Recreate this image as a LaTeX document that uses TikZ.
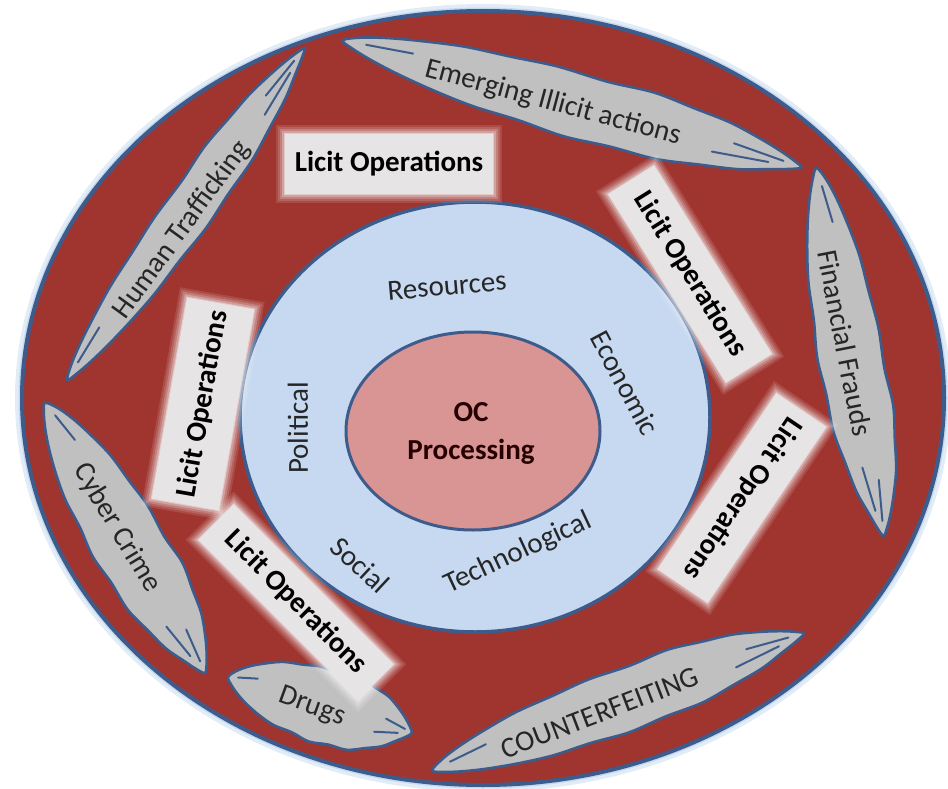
\documentclass[tikz,border=0pt]{standalone}
\usepackage{fontspec}
\setmainfont{Carlito}
\definecolor{redfill}{HTML}{A0342F}
\definecolor{rim}{HTML}{3D5C8C}
\definecolor{ltblue}{HTML}{C6D9F1}
\definecolor{pinkfill}{HTML}{D99594}
\definecolor{featherfill}{HTML}{C0C0C0}
\definecolor{glowc}{HTML}{C5DAF0}
\definecolor{licitfill}{HTML}{E6E4E4}
\definecolor{licitedge}{HTML}{F6F2F2}
\newcommand{\feather}[5]{% cx, cy, angle, half length, half width
\begin{scope}[shift={(#1,-#2)}, rotate=#3]
 \begin{scope}[xscale=#4, yscale=#5]
  \draw[featherline] plot[smooth cycle, tension=0.55] coordinates {
   (-1,0) (-0.93,0.22) (-0.82,0.42) (-0.68,0.6) (-0.5,0.78) (-0.3,0.86)
   (-0.1,0.95) (0.12,0.91) (0.32,0.97) (0.5,0.84) (0.66,0.72) (0.8,0.5)
   (0.9,0.3) (0.97,0.12) (1,0) (0.95,-0.14) (0.86,-0.32) (0.74,-0.55)
   (0.58,-0.72) (0.4,-0.9) (0.2,-0.91) (0,-0.98) (-0.2,-0.88) (-0.4,-0.84)
   (-0.58,-0.7) (-0.74,-0.52) (-0.86,-0.34) (-0.95,-0.16)};
  \draw[slitline] (0.70,0.16) -- (0.92,0.05) (0.62,-0.25) -- (0.86,-0.1)
     (-0.70,0.18) -- (-0.9,0.06);
 \end{scope}
\end{scope}}
\tikzset{
  every node/.style={font=\fontsize{29}{34}\selectfont, inner sep=0pt},
  featherline/.style={draw=rim, line width=2.6pt, fill=featherfill},
  slitline/.style={draw=rim, line width=2pt, line cap=round},
  ftext/.style={text=black!85},
  licit/.style={fill=licitfill, font=\fontsize{29}{34}\selectfont\bfseries,
     preaction={draw=licitedge, line width=18pt, opacity=0.12, rounded corners=6pt},
     preaction={draw=licitedge, line width=14pt, opacity=0.15, rounded corners=5pt},
     preaction={draw=licitedge, line width=10pt, opacity=0.2, rounded corners=4pt},
     preaction={draw=licitedge, line width=6pt, opacity=0.3, rounded corners=3pt},
     preaction={draw=licitedge, line width=2pt, opacity=0.5}},
  inner/.style={text=black!85},
}
\begin{document}
\begin{tikzpicture}[x=1pt, y=1pt]
\useasboundingbox (0,0) rectangle (948,-789);
% outer ring
\draw[glowc, line width=14pt, opacity=0.5] (483,-398) ellipse [x radius=461, y radius=387];
\draw[glowc, line width=7pt] (483,-398) ellipse [x radius=461, y radius=387];
\draw[rim, line width=4pt, fill=redfill] (483,-398) ellipse [x radius=461, y radius=387];
% feathers
\feather{572}{104}{-15.5}{238}{34}
\feather{850}{352}{-79.7}{187}{34}
\feather{186}{214}{54.4}{204}{25}
\feather{125}{538}{-59.4}{157}{38}
\feather{320}{705}{-17}{96}{39}
\feather{618}{702}{20.2}{198}{33}
\node[ftext, rotate=-15] (em) at (553,-103) {Emerging Illicit actions};
\node[ftext, rotate=-79] (ff) at (845,-343) {Financial Frauds};
\node[ftext, rotate=54] (hf) at (182,-230) {Human Trafficking};
\node[ftext, rotate=-59] (cc) at (117,-528) {Cyber Crime};
\node[ftext, rotate=-20] (dr) at (312,-707) {Drugs};
\node[ftext, rotate=21] (cf) at (600,-713) {COUNTERFEITING};
% inner circles
\draw[rim, line width=3.5pt, fill=ltblue] (475,-417) ellipse [x radius=235, y radius=215];
\draw[rim, line width=3pt, fill=pinkfill] (473,-431) ellipse [x radius=127, y radius=99];
\node[inner, rotate=5] (res) at (447,-286) {Resources};
\node[inner, rotate=-62] (eco) at (625,-383) {Economic};
\node[inner, rotate=90] (pol) at (298,-428) {Political};
\node[inner, rotate=-43] (soc) at (360,-565) {Social};
\node[inner, rotate=25] (tec) at (518,-553) {Technological};
\node[font=\fontsize{29}{34}\selectfont\bfseries, text=black!85!red] (oc) at (471,-412) {OC};
\node[font=\fontsize{29}{34}\selectfont\bfseries, text=black!85!red] (proc) at (471,-452) {Processing};
% licit operations
\node[licit, minimum width=208pt, minimum height=60pt] (l1) at (389,-164) {Licit Operations};
\node[licit, rotate=-58, minimum width=222pt, minimum height=54pt] (l2) at (690,-274) {Licit Operations};
\node[licit, rotate=236, minimum width=212pt, minimum height=60pt] (l3) at (742,-498) {Licit Operations};
\node[licit, rotate=80, minimum width=204pt, minimum height=68pt] (l4) at (203,-404) {Licit Operations};
\node[licit, rotate=-45, minimum width=226pt, minimum height=50pt] (l5) at (296,-602) {Licit Operations};
\end{tikzpicture}
\end{document}
